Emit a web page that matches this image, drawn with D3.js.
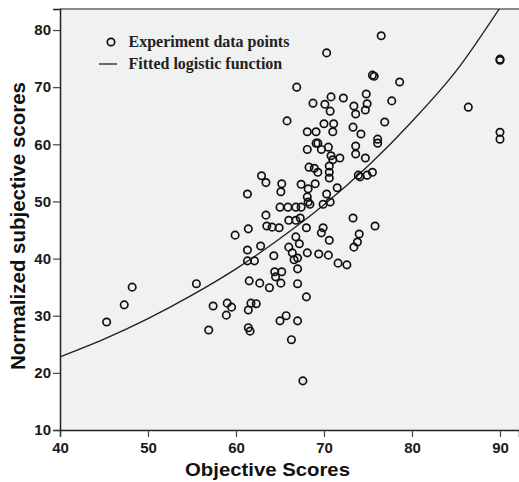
<!DOCTYPE html>
<html>
<head>
<meta charset="utf-8">
<script src="https://cdn.jsdelivr.net/npm/d3@7"></script>
<style>
  html, body { margin: 0; padding: 0; background: #ffffff; }
  svg { display: block; }
</style>
</head>
<body>
<svg id="chart" width="519" height="482"></svg>
<script>
// ---- Data ----
const pointX = [45.3,47.3,48.2,55.5,56.9,57.4,58.9,59.0,59.5,61.3,61.3,62.1,61.5,62.7,61.7,62.3,61.4,61.4,61.6,61.3,
  61.4,59.9,62.9,76.5,70.3,75.5,75.7,78.6,66.9,90.0,90.0,86.4,90.0,90.0,68.75,70.8,72.2,74.8,77.7,70.1,
  70.7,73.4,74.9,73.6,74.7,65.8,76.9,70.0,71.1,71.0,73.3,74.2,68.1,69.1,69.1,69.3,68.1,69.7,70.5,73.6,
  73.6,76.1,76.1,70.8,71.0,71.8,74.7,68.3,68.9,69.3,70.6,70.6,70.6,73.9,74.1,74.9,75.5,71.5,70.3,70.7,
  69.9,73.3,75.8,63.4,65.2,65.1,67.4,68.2,68.1,69.0,68.2,68.4,63.4,65.0,65.9,66.8,67.4,66.0,66.8,67.3,
  63.5,64.1,64.9,68.0,69.9,69.7,70.6,74.0,66.8,62.8,64.3,66.0,66.4,66.6,67.0,67.0,67.2,68.1,69.4,70.5,
  71.6,72.6,73.4,73.8,64.4,65.2,64.5,65.1,63.8,67.0,68.0,65.0,65.7,67.0,66.3,67.6];
const pointY = [28.9,31.9,35.0,35.6,27.5,31.7,30.1,32.2,31.5,41.5,39.6,39.6,36.1,35.7,32.2,32.1,31.0,27.9,27.3,51.3,
  45.2,44.1,54.5,79.0,76.0,72.1,71.9,70.9,70.0,74.9,74.7,66.5,62.1,60.9,67.2,68.3,68.1,68.8,67.6,67.0,
  65.8,66.7,67.1,65.3,66.0,64.1,63.9,63.6,63.6,62.2,63.0,61.8,62.2,62.2,60.2,60.2,59.1,59.1,59.5,59.7,
  58.3,60.9,60.2,58.0,57.3,57.6,57.6,56.0,55.8,55.1,56.2,55.1,54.1,54.6,54.3,54.6,55.1,52.4,51.3,49.9,
  49.5,47.1,45.7,53.3,53.1,51.7,53.0,52.2,50.8,53.1,49.9,49.5,47.6,49.0,49.0,49.0,49.0,46.7,46.7,47.1,
  45.7,45.5,45.4,45.4,45.4,44.5,43.2,44.3,43.8,42.2,40.5,42.0,41.0,39.8,40.1,38.2,42.6,41.0,40.8,40.6,
  39.2,38.9,42.0,42.9,37.7,37.7,36.8,35.7,34.9,35.6,33.3,29.1,30.0,29.1,25.8,18.6];

// Fitted logistic curve
const curveX = [40, 45, 50, 55, 60, 65, 70, 75, 80, 85, 90];
const curveY = [22.8, 25.9, 29.5, 33.6, 38.2, 43.5, 49.4, 56.2, 64.0, 72.8, 83.9];

const xTicks = [40, 50, 60, 70, 80, 90];
const yTicks = [10, 20, 30, 40, 50, 60, 70, 80];

const xTitle = "Objective Scores";
const yTitle = "Normalized subjective scores";
const legendLabels = ["Experiment data points", "Fitted logistic function"];

// ---- Layout ----
const W = 519, H = 482;
const plot = { left: 60, right: 519, top: 9, bottom: 430 };

const x = d3.scaleLinear().domain([40, 92.16]).range([plot.left, plot.right]);
const y = d3.scaleLinear().domain([10, 83.68]).range([plot.bottom, plot.top]);

const svg = d3.select("#chart");

svg.append("rect").attr("x", 0).attr("y", 0).attr("width", W).attr("height", H).attr("fill", "#ffffff");

// plot background
svg.append("rect")
  .attr("x", plot.left).attr("y", plot.top)
  .attr("width", plot.right - plot.left).attr("height", plot.bottom - plot.top)
  .attr("fill", "#f0f1f1");

// top frame line
svg.append("line")
  .attr("x1", plot.left).attr("x2", plot.right)
  .attr("y1", plot.top).attr("y2", plot.top)
  .attr("stroke", "#8a8a8a").attr("stroke-width", 2);

svg.append("defs").append("clipPath").attr("id", "clip")
  .append("rect")
  .attr("x", plot.left).attr("y", plot.top)
  .attr("width", plot.right - plot.left).attr("height", plot.bottom - plot.top);

// curve
const curveData = curveX.map((d, i) => [d, curveY[i]]);
svg.append("path")
  .datum(curveData)
  .attr("clip-path", "url(#clip)")
  .attr("fill", "none")
  .attr("stroke", "#1e1e1e")
  .attr("stroke-width", 1.3)
  .attr("d", d3.line().x(d => x(d[0])).y(d => y(d[1])).curve(d3.curveMonotoneX));

// points
const pts = pointX.map((d, i) => [d, pointY[i]]);
svg.append("g").selectAll("circle")
  .data(pts).join("circle")
  .attr("cx", d => x(d[0])).attr("cy", d => y(d[1]))
  .attr("r", 3.7)
  .attr("fill", "none")
  .attr("stroke", "#111")
  .attr("stroke-width", 1.7);

// axes
const xAxis = d3.axisBottom(x).tickValues(xTicks).tickSize(7).tickPadding(5).tickFormat(d3.format("d"));
const gx = svg.append("g").attr("transform", `translate(0,${plot.bottom})`).call(xAxis);
gx.select(".domain").attr("stroke", "#222").attr("stroke-width", 1.5);
gx.selectAll(".tick line").attr("stroke", "#444").attr("stroke-width", 1.2);
gx.selectAll(".tick text")
  .attr("font-family", "'Liberation Sans', Arial, sans-serif")
  .attr("font-weight", "bold")
  .attr("font-size", 15).attr("fill", "#1a1a1a");

const yAxis = d3.axisLeft(y).tickValues(yTicks).tickSize(7).tickPadding(2).tickFormat(d3.format("d"));
const gy = svg.append("g").attr("transform", `translate(${plot.left},0)`).call(yAxis);
gy.select(".domain").attr("stroke", "#222").attr("stroke-width", 1.5);
gy.selectAll(".tick line").attr("stroke", "#444").attr("stroke-width", 1.2);
gy.selectAll(".tick text")
  .attr("font-family", "'Liberation Sans', Arial, sans-serif")
  .attr("font-weight", "bold")
  .attr("font-size", 15).attr("fill", "#1a1a1a");

// titles
svg.append("text")
  .attr("x", 267.5).attr("y", 476)
  .attr("text-anchor", "middle")
  .attr("font-family", "'Liberation Sans', Arial, sans-serif")
  .attr("font-weight", "bold").attr("font-size", 19)
  .attr("fill", "#111")
  .attr("textLength", 165).attr("lengthAdjust", "spacingAndGlyphs")
  .text(xTitle);

svg.append("text")
  .attr("transform", "translate(25,226) rotate(-90)")
  .attr("text-anchor", "middle")
  .attr("font-family", "'Liberation Sans', Arial, sans-serif")
  .attr("font-weight", "bold").attr("font-size", 20)
  .attr("fill", "#111")
  .attr("textLength", 288).attr("lengthAdjust", "spacingAndGlyphs")
  .text(yTitle);

// legend
const lg = svg.append("g");
lg.append("circle").attr("cx", 111).attr("cy", 42).attr("r", 3.7)
  .attr("fill", "none").attr("stroke", "#111").attr("stroke-width", 1.7);
lg.append("line").attr("x1", 99).attr("x2", 117).attr("y1", 64).attr("y2", 64)
  .attr("stroke", "#1e1e1e").attr("stroke-width", 1.3);
lg.selectAll("text").data(legendLabels).join("text")
  .attr("x", 128.5)
  .attr("y", (d, i) => i === 0 ? 47 : 69)
  .attr("font-family", "'Liberation Serif', 'Times New Roman', serif")
  .attr("font-weight", "bold").attr("font-size", 16)
  .attr("fill", "#222")
  .text(d => d);
</script>
</body>
</html>
